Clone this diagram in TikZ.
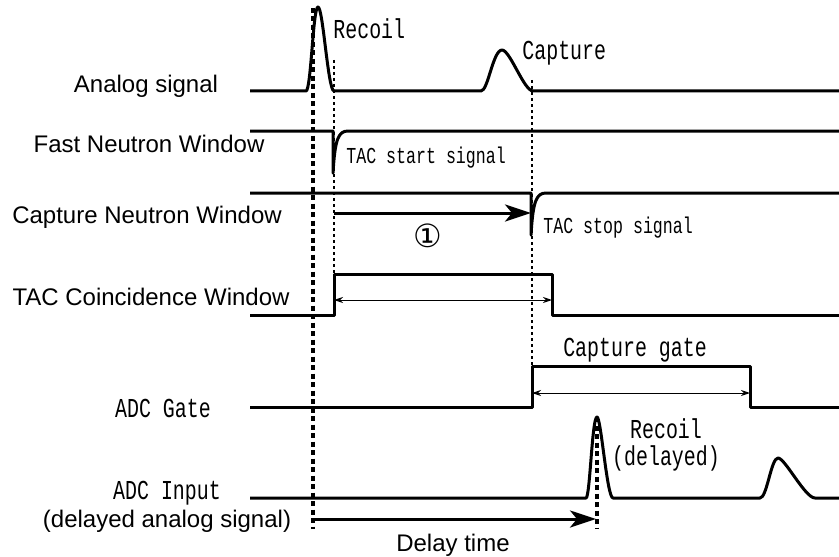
\documentclass[tikz,border=0pt]{standalone}
\usepackage{fontspec}
\setmainfont{Liberation Sans}
\newfontfamily\gothicfont{Liberation Mono}
\newfontfamily\symbolfont{DejaVu Sans}
\usepackage{graphicx}
\usepackage{tikz}
\usetikzlibrary{calc}
\usetikzlibrary{arrows.meta}
\newcommand{\gothic}[1]{\scalebox{0.83}[1.14]{\gothicfont #1}}
\tikzset{
    wave/.style     = {line width=1.5pt, line join=round},
    marker/.style   = {line width=2pt, dash pattern=on 2.5pt off 1.75pt},
    guide/.style    = {line width=0.9pt, dash pattern=on 1.5pt off 1.5pt},
    bigarrow/.style = {line width=1.5pt, -{Stealth[length=13pt, width=8.5pt, inset=3.5pt]}},
    span/.style     = {line width=0.5pt, {Stealth[length=4.5pt, width=3pt]}-{Stealth[length=4.5pt, width=3pt]}},
    signame/.style  = {font=\fontsize{12}{14}\selectfont, inner sep=0pt, anchor=base},
    bigtag/.style   = {font=\fontsize{12}{14}\selectfont, inner sep=0pt, anchor=base},
    smalltag/.style = {font=\fontsize{10}{12}\selectfont, inner sep=0pt, anchor=base west}
}

\begin{document}
\begin{tikzpicture}[x=0.5pt, y=-0.5pt]
            \useasboundingbox (0,0) rectangle (839,556);

            \node[signame] (analog)   at (146, 92) {Analog signal};
            \node[signame] (fastwin)  at (149,152) {Fast Neutron Window};
            \node[signame] (capwin)   at (147,223) {Capture Neutron Window};
            \node[signame] (tacwin)   at (151,305) {TAC Coincidence Window};
            \node[bigtag]  (adcgate)  at (163,417) {\gothic{ADC Gate}};
            \node[bigtag]  (adcinput) at (167,499) {\gothic{ADC Input}};
            \node[signame] (delsig)   at (167,527) {(delayed analog signal)};

            \draw[wave] (250, 91) -- (306, 91) .. controls (311, 91) and (313,  7) .. (318,  7)
                                   .. controls (323,  7) and (328, 91) .. (334, 91)
                        -- (481, 91) .. controls (488, 91) and (493, 50) .. (502, 50)
                                   .. controls (510, 50) and (524, 91) .. (533, 91) -- (839, 91);
            \draw[wave] (250,131) -- (333,131) -- (333,173) .. controls (335,140) and (338,131) .. (348,131) -- (839,131);
            \draw[wave] (250,193) -- (531,193) -- (531,235) .. controls (533,202) and (536,193) .. (546,193) -- (839,193);
            \draw[wave] (250,315) -- (334,315) -- (334,274) -- (552,274) -- (552,315) -- (839,315);
            \draw[wave] (250,407) -- (532,407) -- (532,366) -- (750,366) -- (750,407) -- (839,407);
            \draw[wave] (250,498) -- (586,498) .. controls (590,498) and (592,417) .. (597,417)
                                   .. controls (601,417) and (607,498) .. (613,498)
                        -- (760,498) .. controls (767,498) and (771,458) .. (778,458)
                                   .. controls (785,458) and (805,498) .. (815,498) -- (839,498);

            \draw[marker] (313,  8) -- (313,529);
            \draw[marker] (597,417) -- (597,529);
            \draw[guide]  (334, 60) -- (334,274);
            \draw[guide]  (532, 80) -- (532,366);

            \coordinate (startmark) at (334,213);
            \coordinate (stopmark)  at (531,213);
            \coordinate (tacopen)   at (334,300);
            \coordinate (tacclose)  at (552,300);
            \coordinate (gateopen)  at (532,393);
            \coordinate (gateclose) at (750,393);
            \coordinate (prompt)    at (313,519);
            \coordinate (delayed)   at (596,519);

            \draw[bigarrow] (startmark) -- (stopmark);
            \draw[bigarrow] (prompt) -- (delayed);
            \draw[span]     (tacopen) -- (tacclose);
            \draw[span]     (gateopen) -- (gateclose);

            \node[bigtag, anchor=base west] (recoil)  at (333, 39) {\gothic{Recoil}};
            \node[bigtag, anchor=base west] (capture) at (522, 60) {\gothic{Capture}};
            \node[smalltag] (tacstart) at (346,163) {\gothic{TAC start signal}};
            \node[smalltag] (tacstop)  at (543,233) {\gothic{TAC stop signal}};
            \node[bigtag]   (capgate)  at (635,356) {\gothic{Capture gate}};
            \node[bigtag]   (recoild)  at (666,438) {\gothic{Recoil}};
            \node[bigtag]   (delay)    at (666,465) {\gothic{(delayed)}};
            \node[font=\symbolfont\fontsize{16}{18}\selectfont, inner sep=0pt] (one) at (428,236) {①};
            \node[signame]  (delaytime) at (453,551) {Delay time};
        \end{tikzpicture}
\end{document}
